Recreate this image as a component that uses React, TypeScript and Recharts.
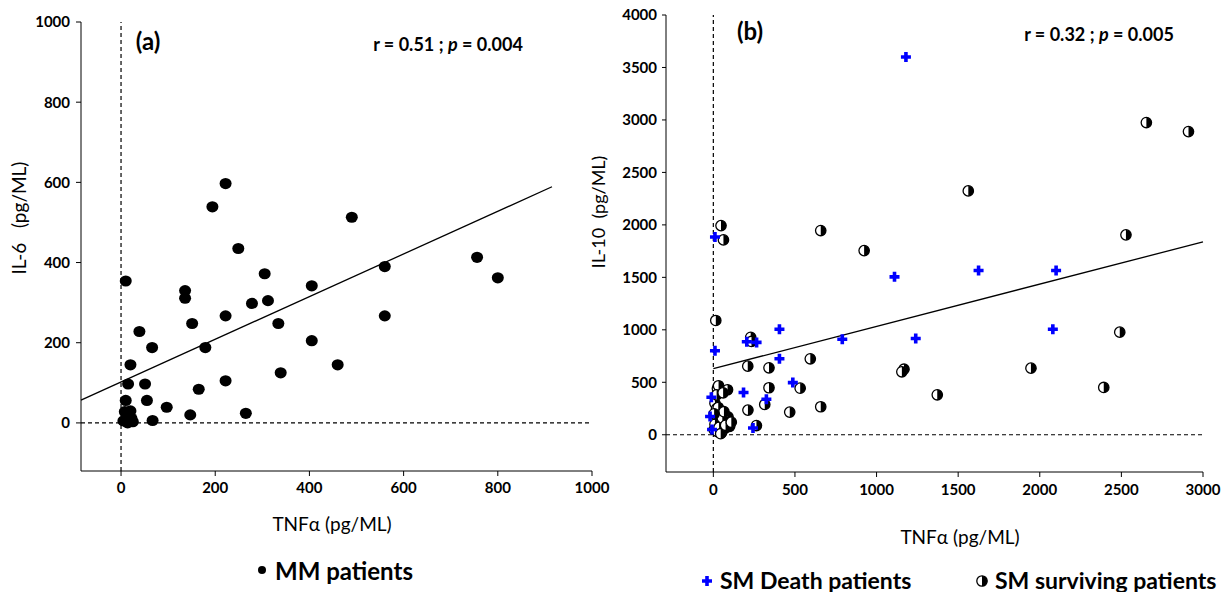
import { ScatterChart, Scatter, XAxis, YAxis, ReferenceLine } from "recharts";

// panel (a): MM patients, TNFα vs IL-6
const mmTnf = [10, 222, 194, 249, 490, 560, 756, 800, 305, 405, 136, 136, 278, 312, 222, 151, 334, 560, 405, 179, 39, 66, 20, 460, 339, 222, 165, 15, 51, 10, 55, 97, 147, 265, 67, 20, 5, 12, 18, 25, 8, 14, 22];
const mmIl6 = [354, 597, 539, 435, 513, 390, 413, 362, 372, 342, 330, 311, 298, 305, 267, 248, 248, 267, 205, 188, 228, 188, 145, 145, 125, 105, 84, 97, 97, 56, 56, 39, 20, 24, 6, 30, 5, 18, 8, 3, 28, 0, 12];

// panel (b): SM patients, TNFα vs IL-10
const deathTnf = [1180, 10, 1110, 1625, 2100, 405, 2080, 790, 1240, 205, 265, 10, 405, 487, 185, 325, -12, -20, -8, 243];
const deathIl10 = [3600, 1885, 1505, 1565, 1565, 1005, 1005, 910, 918, 886, 880, 800, 725, 497, 403, 338, 357, 174, 50, 64];

const survTnf = [2653, 2911, 1562, 47, 62, 658, 924, 2528, 15, 229, 234, 211, 341, 594, 1168, 1155, 1946, 2490, 2392, 1372, 341, 532, 25, 87, 32, 212, 315, 468, 658, 264, 10, 20, 30, 15, 40, 60, 80, 100, 5, 25, 50, 70, 90, 10, 35, 55, 45, 20, 60, 75, 110, 30, 65, 5];
const survIl10 = [2975, 2889, 2324, 1993, 1857, 1946, 1755, 1905, 1089, 929, 889, 654, 638, 724, 625, 600, 635, 978, 451, 381, 448, 444, 440, 429, 467, 235, 289, 216, 267, 88, 300, 250, 200, 150, 120, 100, 150, 80, 50, 30, 20, 60, 170, 100, 70, 160, 10, 380, 400, 90, 120, 260, 220, 200];

const xTicksA = [0, 200, 400, 600, 800, 1000];
const yTicksA = [0, 200, 400, 600, 800, 1000];
const xTicksB = [0, 500, 1000, 1500, 2000, 2500, 3000];
const yTicksB = [0, 500, 1000, 1500, 2000, 2500, 3000, 3500, 4000];

// regression lines (end points)
const trendA = [{ x: -85, y: 57 }, { x: 915, y: 589 }];
const trendB = [{ x: 0, y: 630 }, { x: 3000, y: 1838 }];

const zip = (xs: number[], ys: number[]) => xs.map((x, i) => ({ x, y: ys[i] }));
const mmData = zip(mmTnf, mmIl6);
const deathData = zip(deathTnf, deathIl10);
const survData = zip(survTnf, survIl10);

const FONT = "Lato, 'Open Sans', sans-serif";
const tickStyle = { fill: "#000", fontSize: 15, fontWeight: 700, fontFamily: FONT };

const Dot = (p: any) => <ellipse cx={p.cx} cy={p.cy} rx={6} ry={5.6} fill="#000" />;

const Cross = (p: any) => {
  const { cx, cy } = p;
  const a = 1.8, b = 5;
  return (
    <path
      d={`M${cx - b},${cy - a}H${cx - a}V${cy - b}H${cx + a}V${cy - a}H${cx + b}V${cy + a}H${cx + a}V${cy + b}H${cx - a}V${cy + a}H${cx - b}Z`}
      fill="#0000ff"
    />
  );
};

const Half = (p: any) => {
  const { cx, cy } = p;
  const r = 5.2;
  return (
    <g>
      <circle cx={cx} cy={cy} r={r} fill="#fff" stroke="#000" strokeWidth={1.3} />
      <path d={`M${cx},${cy - r}A${r},${r} 0 0 1 ${cx},${cy + r}Z`} fill="#000" />
    </g>
  );
};

const Txt = ({ x, y, size, bold, children, rotate, left }: any) => (
  <div
    style={{
      position: "absolute",
      left: x,
      top: y,
      transform: `${left ? "translate(0,-50%)" : "translate(-50%,-50%)"}${rotate ? " rotate(-90deg)" : ""}`,
      fontFamily: FONT,
      fontSize: size,
      fontWeight: bold ? 700 : 400,
      whiteSpace: "pre",
      color: "#000",
      lineHeight: 1,
    }}
  >
    {children}
  </div>
);

const Icon = ({ x, y, shape }: any) => (
  <svg style={{ position: "absolute", left: x - 7, top: y - 7 }} width={14} height={14}>
    {shape({ cx: 7, cy: 7 })}
  </svg>
);

export default function App() {
  return (
    <div style={{ position: "absolute", left: 0, top: 0, width: 1231, height: 592, background: "#fff" }}>
      <div style={{ position: "absolute", left: 0, top: 0 }}>
        <ScatterChart width={630} height={592} margin={{ top: 22, right: 38, bottom: 91, left: 0 }}>
          <XAxis
            type="number"
            dataKey="x"
            domain={[-85, 1000]}
            ticks={xTicksA}
            allowDataOverflow
            tick={tickStyle}
            tickSize={5}
            tickMargin={6}
            stroke="#000"
            height={30}
          />
          <YAxis
            type="number"
            dataKey="y"
            domain={[-100, 1000]}
            ticks={yTicksA}
            allowDataOverflow
            padding={{ bottom: 8 }}
            tick={tickStyle}
            tickSize={5}
            tickMargin={6}
            stroke="#000"
            width={81}
          />
          <ReferenceLine x={0} stroke="#000" strokeDasharray="4 3" strokeWidth={1.2} />
          <ReferenceLine y={0} stroke="#000" strokeDasharray="4 3" strokeWidth={1.2} />
          <ReferenceLine segment={trendA} stroke="#000" strokeWidth={1.3} />
          <Scatter name="MM patients" data={mmData} shape={Dot} isAnimationActive={false} />
        </ScatterChart>
      </div>
      <div style={{ position: "absolute", left: 600, top: 0 }}>
        <ScatterChart width={631} height={592} margin={{ top: 15, right: 28, bottom: 90, left: 0 }}>
          <XAxis
            type="number"
            dataKey="x"
            domain={[-290, 3000]}
            ticks={xTicksB}
            allowDataOverflow
            tick={tickStyle}
            tickSize={5}
            tickMargin={7}
            stroke="#000"
            height={30}
          />
          <YAxis
            type="number"
            dataKey="y"
            domain={[-250, 4000]}
            ticks={yTicksB}
            allowDataOverflow
            padding={{ bottom: 11 }}
            tick={tickStyle}
            tickSize={4}
            tickMargin={5}
            stroke="#000"
            width={66}
          />
          <ReferenceLine x={0} stroke="#000" strokeDasharray="4 3" strokeWidth={1.2} />
          <ReferenceLine y={0} stroke="#000" strokeDasharray="4 3" strokeWidth={1.2} />
          <ReferenceLine segment={trendB} stroke="#000" strokeWidth={1.3} />
          <Scatter name="SM surviving patients" data={survData} shape={Half} isAnimationActive={false} />
          <Scatter name="SM Death patients" data={deathData} shape={Cross} isAnimationActive={false} />
        </ScatterChart>
      </div>

      <Txt x={148} y={41} size={24} bold>(a)</Txt>
      <Txt x={448} y={44} size={18} bold>
        r = 0.51 ; <i>p</i> = 0.004
      </Txt>
      <Txt x={750} y={31} size={24} bold>(b)</Txt>
      <Txt x={1099} y={34} size={18} bold>
        r = 0.32 ; <i>p</i> = 0.005
      </Txt>

      <Txt x={18} y={218} size={19} rotate>IL-6   (pg/ML)</Txt>
      <Txt x={598} y={212} size={18} rotate>IL-10  (pg/ML)</Txt>
      <Txt x={332} y={523} size={19}>TNFα (pg/ML)</Txt>
      <Txt x={960} y={536} size={19}>TNFα (pg/ML)</Txt>

      <svg style={{ position: "absolute", left: 256, top: 564 }} width={12} height={12}>
        <circle cx={6} cy={6} r={4} fill="#000" />
      </svg>
      <Txt x={275} y={571} size={24} bold left>MM patients</Txt>
      <Icon x={707} y={581} shape={Cross} />
      <Txt x={720} y={580} size={23} bold left>SM Death patients</Txt>
      <Icon x={982} y={581} shape={Half} />
      <Txt x={995} y={580} size={23} bold left>SM surviving patients</Txt>
    </div>
  );
}
